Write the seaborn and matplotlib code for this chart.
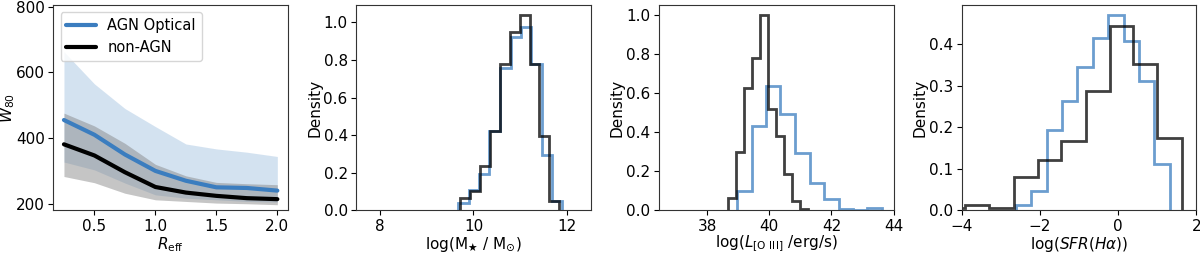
import numpy as np
import seaborn as sns
import matplotlib
matplotlib.use("Agg")
import matplotlib.pyplot as plt

# Painel 1: W80 em funcao do raio
r_eff = [0.25, 0.5, 0.75, 1.0, 1.25, 1.5, 1.75, 2.0]
agn_med = [455, 410, 350, 300, 270, 250, 248, 240]
agn_hi = [663, 565, 490, 435, 382, 367, 357, 344]
agn_lo = [327, 303, 263, 227, 217, 212, 207, 205]
non_med = [381, 347, 296, 251, 234, 224, 217, 214]
non_hi = [476, 437, 384, 320, 285, 265, 261, 258]
non_lo = [283, 264, 232, 212, 207, 202, 200, 197]

# Painel 2: massa estelar (bordas dos bins e densidades)
mass_edges_agn = [9.68, 9.90, 10.12, 10.34, 10.57, 10.79, 11.01, 11.23, 11.45, 11.67, 11.89]
mass_dens_agn = [0.038, 0.107, 0.193, 0.42, 0.755, 0.92, 0.973, 0.777, 0.293, 0.05]
mass_edges_non = [9.72, 9.93, 10.15, 10.36, 10.57, 10.78, 10.99, 11.20, 11.40, 11.61, 11.82]
mass_dens_non = [0.066, 0.104, 0.238, 0.42, 0.78, 0.95, 1.04, 0.777, 0.393, 0.05]

# Painel 3: luminosidade [O III]
loiii_edges_agn = [38.96, 39.43, 39.90, 40.36, 40.83, 41.30, 41.76, 42.23, 42.70, 43.16, 43.63]
loiii_dens_agn = [0.098, 0.429, 0.635, 0.494, 0.293, 0.142, 0.057, 0.005, 0.003, 0.012]
loiii_edges_non = [38.66, 38.92, 39.18, 39.44, 39.70, 39.96, 40.22, 40.48, 40.74, 41.00, 41.26]
loiii_dens_non = [0.062, 0.297, 0.628, 0.78, 1.0, 0.516, 0.381, 0.185, 0.048, 0.007]

# Painel 4: SFR(Halpha)
sfr_edges_agn = [-2.62, -2.23, -1.83, -1.44, -1.04, -0.65, -0.26, 0.14, 0.53, 0.92, 1.32]
sfr_dens_agn = [0.013, 0.047, 0.194, 0.263, 0.345, 0.414, 0.470, 0.408, 0.311, 0.111]
sfr_edges_non = [-4.53, -3.91, -3.29, -2.67, -2.06, -1.45, -0.83, -0.22, 0.39, 1.00, 1.62]
sfr_dens_non = [0.0065, 0.013, 0.0065, 0.081, 0.122, 0.167, 0.287, 0.442, 0.353, 0.173]

sns.set_style("ticks")
plt.rcParams["font.family"] = ["DejaVu Sans"]
plt.rcParams["font.size"] = 11
plt.rcParams["xtick.major.pad"] = 2.5
plt.rcParams["ytick.major.pad"] = 2.5
plt.rcParams["axes.labelpad"] = 1
plt.rcParams["axes.edgecolor"] = "0.2"
for k in ["text.color", "axes.labelcolor", "xtick.color", "ytick.color"]:
    plt.rcParams[k] = "black"

cor_agn = "#3b7dbf"
cor_non = "black"

fig, axes = plt.subplots(1, 4, figsize=(12, 2.54), dpi=100)
fig.subplots_adjust(left=0.0444, right=0.997, top=0.98, bottom=0.172, wspace=0.29)

ax = axes[0]
ax.fill_between(r_eff, agn_lo, agn_hi, color=cor_agn, alpha=0.22, lw=0)
ax.fill_between(r_eff, non_lo, non_hi, color="gray", alpha=0.45, lw=0)
sns.lineplot(x=r_eff, y=agn_med, color=cor_agn, lw=3, label="AGN Optical", ax=ax)
sns.lineplot(x=r_eff, y=non_med, color=cor_non, lw=3, label="non-AGN", ax=ax)
ax.set_ylim(180, 805)
ax.set_yticks([200, 400, 600, 800])
ax.set_xlabel(r"$R_{\rm eff}$")
ax.set_ylabel(r"$W_{80}$", labelpad=-1)
ax.legend(loc="upper left", fontsize=10.5)


def degraus(ax, edges, dens, cor, alpha):
    # histograma em degraus a partir das densidades lidas
    centros = (np.array(edges[:-1]) + np.array(edges[1:])) / 2
    ax.hist(centros, bins=edges, weights=dens, histtype="step",
            color=cor, alpha=alpha, lw=2)


ax = axes[1]
degraus(ax, mass_edges_agn, mass_dens_agn, cor_agn, 0.75)
degraus(ax, mass_edges_non, mass_dens_non, cor_non, 0.75)
ax.set_xlim(7.5, 12.5)
ax.set_xticks([8, 10, 12])
ax.set_xlabel("log(M$_★$ / M$_{\\odot}$)")
ax.set_ylabel("Density")

ax = axes[2]
degraus(ax, loiii_edges_agn, loiii_dens_agn, cor_agn, 0.75)
degraus(ax, loiii_edges_non, loiii_dens_non, cor_non, 0.75)
ax.set_xlim(36.45, 44)
ax.set_xlabel(r"log($L_{\rm [O\ III]}$ /erg/s)", labelpad=0)
ax.set_ylabel("Density")

ax = axes[3]
degraus(ax, sfr_edges_agn, sfr_dens_agn, cor_agn, 0.75)
degraus(ax, sfr_edges_non, sfr_dens_non, cor_non, 0.75)
ax.set_xlim(-4, 2)
ax.set_xlabel(r"log($SFR(H\alpha)$)")
ax.set_ylabel("Density")

plt.savefig("out.png", dpi=100)
